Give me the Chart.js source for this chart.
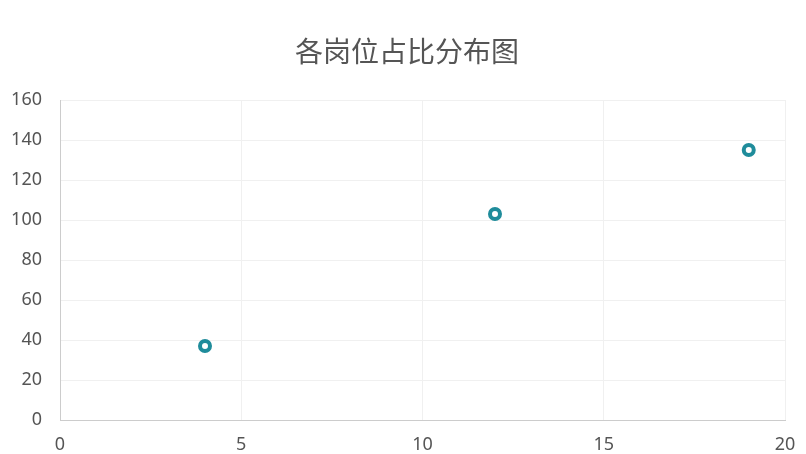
<!DOCTYPE html>
<html>
<head>
<meta charset="utf-8">
<script src="https://cdn.jsdelivr.net/npm/chart.js@4/dist/chart.umd.min.js"></script>
<style>
  html, body { margin: 0; padding: 0; background: #fff; }
  #wrap { width: 806px; height: 454px; }
</style>
</head>
<body>
<div id="wrap"><canvas id="chart"></canvas></div>
<script>
// positions (x) and counts (y)
var xValues = [4, 12, 19];
var yValues = [37, 103, 135];
var chartTitle = '各岗位占比分布图';

var points = xValues.map(function (x, i) { return { x: x, y: yValues[i] }; });

// title drawn a little right of centre, like the original
var titlePlugin = {
    id: 'centerTitle',
    afterDraw: function (chart) {
        var c = chart.ctx;
        c.save();
        c.font = '28px "Noto Sans CJK SC", sans-serif';
        c.fillStyle = '#555555';
        c.textAlign = 'center';
        c.textBaseline = 'middle';
        c.fillText(chartTitle, 407, 51);
        c.restore();
    }
};

var ctx = document.getElementById('chart');
var myChart = new Chart(ctx, {
    type: 'scatter',
    data: {
        datasets: [{
            label: chartTitle,
            data: points,
            backgroundColor: '#ffffff',
            borderColor: '#1f8c9b',
            borderWidth: 4,
            pointRadius: 5,
            pointHoverRadius: 5
        }]
    },
    options: {
        responsive: true,
        maintainAspectRatio: false,
        animation: false,
        events: [],
        layout: { padding: { left: 0, right: 21, bottom: 0, top: 100 } },
        plugins: {
            legend: { display: false },
            tooltip: { enabled: false },
            title: { display: false }
        },
        scales: {
            x: {
                type: 'linear',
                min: 0,
                max: 20,
                ticks: {
                    stepSize: 5,
                    color: '#555555',
                    font: { family: '"Noto Sans", sans-serif', size: 18 },
                    padding: 14
                },
                grid: { color: '#f0f0f0', drawTicks: false },
                border: { color: '#cccccc' },
                afterFit: function (scale) {
                    scale.height = 34;
                    scale.paddingRight = 10;
                    scale.paddingLeft = 0;
                }
            },
            y: {
                min: 0,
                max: 160,
                ticks: {
                    stepSize: 20,
                    color: '#555555',
                    font: { family: '"Noto Sans", sans-serif', size: 18 },
                    padding: 18
                },
                grid: { color: '#f0f0f0', drawTicks: false },
                border: { color: '#cccccc' },
                afterFit: function (scale) {
                    scale.width = 60;
                    scale.paddingTop = 0;
                    scale.paddingBottom = 0;
                }
            }
        }
    },
    plugins: [titlePlugin]
});
</script>
</body>
</html>
